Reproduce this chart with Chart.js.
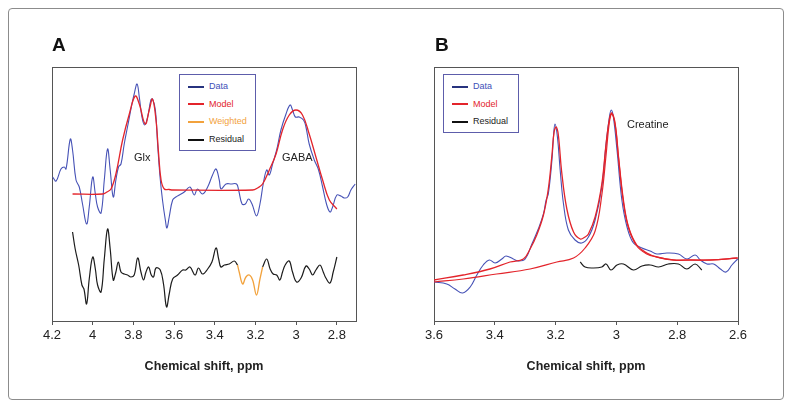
<!DOCTYPE html>
<html>
<head>
<meta charset="utf-8">
<script src="https://cdn.jsdelivr.net/npm/chart.js@4"></script>
<style>
  body { margin: 0; background: #fff; font-family: "Liberation Sans", Arial, sans-serif; }
  #fig { position: relative; width: 791px; height: 407px; overflow: hidden; }
  #frame { position: absolute; left: 8px; top: 8px; width: 774px; height: 390px; border: 1px solid #8c8c8c; border-radius: 4px; }
  canvas { position: absolute; top: 0; }
  .letter { position: absolute; font-weight: bold; font-size: 19px; color: #111; line-height: 22px; }
  .legend { position: absolute; border: 1px solid #5d5dab; background: #fff; font-size: 9px; padding-top: 3px; box-sizing: border-box; }
  .legend div { height: 17.7px; line-height: 17.7px; white-space: nowrap; }
  .legend span { display: inline-block; width: 16px; height: 2px; margin: 0 5px 0 8px; vertical-align: middle; }
  .note { position: absolute; font-size: 11px; color: #222; line-height: 13px; }
</style>
</head>
<body>
<div id="fig">
  <div id="frame"></div>
  <canvas id="chartA" width="395" height="407" style="left:0"></canvas>
  <canvas id="chartB" width="396" height="407" style="left:395px"></canvas>

  <div class="letter" style="left:52px; top:34px">A</div>
  <div class="letter" style="left:435px; top:34px">B</div>

  <div class="legend" style="left:179px; top:74px; width:77px; height:77px">
    <div style="color:#3e4fb8"><span style="background:#27337f"></span>Data</div>
    <div style="color:#e3242b"><span style="background:#e3242b"></span>Model</div>
    <div style="color:#f2a23c"><span style="background:#f2a23c"></span>Weighted</div>
    <div style="color:#222"><span style="background:#111"></span>Residual</div>
  </div>
  <div class="legend" style="left:443px; top:74px; width:76px; height:59px">
    <div style="color:#3e4fb8"><span style="background:#27337f"></span>Data</div>
    <div style="color:#e3242b"><span style="background:#e3242b"></span>Model</div>
    <div style="color:#222"><span style="background:#111"></span>Residual</div>
  </div>

  <div class="note" style="left:134px; top:151px">Glx</div>
  <div class="note" style="left:282px; top:151px">GABA</div>
  <div class="note" style="left:627px; top:118px">Creatine</div>
</div>

<script>
// Panel A: GABA-edited spectrum (ppm, arbitrary units)
const ticksA = [4.2, 4, 3.8, 3.6, 3.4, 3.2, 3, 2.8];
const dataPpmA = [4.197, 4.180, 4.156, 4.140, 4.131, 4.110, 4.099, 4.082, 4.066, 4.050, 4.030, 4.017, 4.000, 3.987, 3.976, 3.959, 3.943, 3.927, 3.914, 3.899, 3.886, 3.873, 3.861, 3.845, 3.829, 3.807, 3.796, 3.782, 3.771, 3.758, 3.745, 3.730, 3.714, 3.706, 3.692, 3.681, 3.669, 3.657, 3.643, 3.635, 3.624, 3.607, 3.591, 3.574, 3.550, 3.522, 3.501, 3.485, 3.460, 3.435, 3.411, 3.394, 3.378, 3.369, 3.345, 3.320, 3.293, 3.283, 3.266, 3.250, 3.234, 3.217, 3.195, 3.178, 3.162, 3.145, 3.132, 3.116, 3.096, 3.075, 3.050, 3.030, 3.018, 3.004, 2.985, 2.964, 2.952, 2.936, 2.911, 2.890, 2.870, 2.851, 2.834, 2.821, 2.800, 2.780, 2.764, 2.747, 2.731, 2.710];
const dataA = [144, 140, 152, 154, 152, 182, 171, 141, 134, 117, 97, 114, 144, 127, 114, 108, 141, 172, 151, 124, 141, 154, 157, 177, 194, 217, 227, 237, 224, 204, 196, 204, 221, 222, 211, 177, 144, 121, 101, 93, 104, 121, 124, 126, 129, 134, 126, 132, 127, 134, 146, 152, 141, 132, 137, 137, 137, 131, 117, 117, 122, 117, 105, 117, 137, 151, 146, 157, 171, 191, 207, 216, 211, 204, 204, 201, 194, 177, 161, 151, 134, 117, 109, 114, 126, 125, 123, 124, 131, 137];
const modelPpmA = [4.099, 3.951, 3.930, 3.910, 3.886, 3.853, 3.820, 3.791, 3.771, 3.742, 3.722, 3.706, 3.689, 3.676, 3.664, 3.648, 3.625, 3.607, 3.214, 3.190, 3.165, 3.132, 3.099, 3.067, 3.034, 3.001, 2.969, 2.936, 2.903, 2.870, 2.837, 2.800];
const modelA = [127, 127, 129, 132, 147, 181, 207, 225, 217, 197, 211, 222, 201, 167, 141, 132, 131.5, 131, 131, 133, 137, 151, 167, 191, 206, 211, 206, 187, 164, 141, 121, 112];
const residPpmA = [4.099, 4.086, 4.069, 4.053, 4.043, 4.030, 4.017, 4.000, 3.987, 3.976, 3.959, 3.943, 3.927, 3.914, 3.899, 3.886, 3.874, 3.861, 3.845, 3.829, 3.812, 3.796, 3.779, 3.763, 3.750, 3.738, 3.725, 3.712, 3.701, 3.689, 3.668, 3.652, 3.637, 3.624, 3.607, 3.583, 3.558, 3.542, 3.522, 3.497, 3.480, 3.460, 3.435, 3.414, 3.394, 3.381, 3.370, 3.353, 3.329, 3.304, 3.288, 3.280, 3.263, 3.247, 3.230, 3.214, 3.195, 3.178, 3.165, 3.145, 3.128, 3.113, 3.096, 3.080, 3.067, 3.054, 3.034, 3.018, 2.998, 2.976, 2.952, 2.936, 2.919, 2.903, 2.883, 2.867, 2.854, 2.834, 2.818, 2.800];
const residA = [89, 72, 56, 36, 32, 17, 42, 64, 52, 36, 29, 62, 92, 72, 41, 49, 59, 49, 47, 46, 44, 46, 63, 49, 41, 49, 54, 46, 44, 53, 51, 37, 14, 27, 42, 46, 51, 51, 54, 46, 53, 47, 52, 59, 73, 62, 54, 56, 57, 60, 56, 49, 37, 44, 46, 41, 26, 42, 54, 62, 52, 47, 46, 41, 49, 56, 60, 49, 39, 43, 55, 52, 46, 51, 56, 49, 43, 38, 49, 64];
const weightPpmA = [3.288, 3.280, 3.263, 3.247, 3.230, 3.214, 3.195, 3.178, 3.165];
const weightA = [56, 49, 37, 44, 46, 41, 26, 42, 54];

// Panel B: creatine fit
const ticksB = [3.6, 3.4, 3.2, 3, 2.8, 2.6];
const dataPpmB = [3.600, 3.558, 3.531, 3.506, 3.481, 3.459, 3.438, 3.418, 3.399, 3.377, 3.363, 3.339, 3.322, 3.300, 3.278, 3.257, 3.240, 3.231, 3.224, 3.212, 3.207, 3.202, 3.194, 3.185, 3.174, 3.158, 3.136, 3.114, 3.092, 3.070, 3.048, 3.034, 3.023, 3.017, 3.010, 2.998, 2.982, 2.965, 2.944, 2.916, 2.889, 2.867, 2.834, 2.796, 2.768, 2.741, 2.724, 2.702, 2.680, 2.658, 2.639, 2.620, 2.601];
const dataB = [39, 37, 32, 28, 34, 46, 56, 61, 58, 62, 65, 62, 60, 62, 77, 92, 107, 121, 127, 161, 184, 197, 184, 151, 117, 91, 81, 78, 84, 101, 134, 177, 204, 211, 204, 171, 121, 94, 78, 73, 70, 67, 68, 67, 62, 66, 61, 57, 57, 52, 49, 56, 62];
const modelPpmB = [3.600, 3.504, 3.416, 3.350, 3.306, 3.284, 3.262, 3.240, 3.224, 3.212, 3.205, 3.198, 3.191, 3.180, 3.163, 3.141, 3.119, 3.103, 3.092, 3.070, 3.048, 3.034, 3.023, 3.015, 3.004, 2.993, 2.977, 2.960, 2.933, 2.900, 2.867, 2.812, 2.755, 2.691, 2.601];
const modelB = [41, 46, 52, 59, 62, 72, 86, 106, 132, 166, 189, 194, 186, 149, 112, 89, 82, 84, 87, 104, 137, 177, 202, 208, 197, 164, 121, 94, 76, 68, 64, 61, 61, 61, 63];
const crPpmB = [3.600, 3.504, 3.394, 3.284, 3.196, 3.141, 3.103, 3.070, 3.048, 3.034, 3.023, 3.015, 3.004, 2.993, 2.977, 2.960, 2.933, 2.900, 2.867, 2.812, 2.755, 2.691, 2.601];
const crB = [39, 42, 47, 52, 59, 63, 73, 90, 126, 166, 199, 207, 196, 163, 119, 93, 75, 67, 64, 61, 61, 61, 63];
const residPpmB = [3.119, 3.103, 3.075, 3.048, 3.034, 3.018, 2.998, 2.977, 2.944, 2.916, 2.889, 2.861, 2.829, 2.796, 2.768, 2.741, 2.719];
const residB = [59, 54, 53, 54, 57, 51, 56, 57, 51, 55, 56, 54, 57, 57, 52, 57, 51];

const BLUE = '#4652b6';
const RED = '#e3242b';
const ORANGE = '#f2a23c';
const BLACK = '#1c1c1c';

function puntos(xs, ys) {
  return xs.map((x, i) => ({ x: x, y: ys[i] }));
}

function serie(label, xs, ys, color, width) {
  return {
    label: label,
    data: puntos(xs, ys),
    borderColor: color,
    borderWidth: width,
    pointRadius: 0,
    fill: false,
    tension: 0.4
  };
}

// the black residual leaves a gap where the weighted (orange) part is drawn
const wMax = Math.max(...weightPpmA);
const wMin = Math.min(...weightPpmA);
const residNegroA = residA.map((v, i) => (residPpmA[i] < wMax && residPpmA[i] > wMin) ? null : v);

// box around the plot area
const marco = {
  id: 'marco',
  beforeDatasetsDraw(chart) {
    const a = chart.chartArea;
    const ctx = chart.ctx;
    ctx.save();
    ctx.strokeStyle = '#555';
    ctx.lineWidth = 1;
    ctx.strokeRect(Math.round(a.left) + 0.5, Math.round(a.top) + 0.5, Math.round(a.right - a.left), Math.round(a.bottom - a.top));
    ctx.restore();
  }
};

function panel(id, datasets, xmin, xmax, ticks, pad) {
  return new Chart(document.getElementById(id), {
    type: 'line',
    data: { datasets: datasets },
    plugins: [marco],
    options: {
      responsive: false,
      animation: false,
      events: [],
      layout: { padding: pad },
      plugins: { legend: { display: false }, tooltip: { enabled: false } },
      scales: {
        x: {
          type: 'linear',
          reverse: true,
          min: xmin,
          max: xmax,
          afterBuildTicks: s => { s.ticks = ticks.map(v => ({ value: v })); },
          afterFit: s => { s.height = 56; },
          grid: { drawOnChartArea: false, drawTicks: true, tickLength: 4, color: '#555' },
          border: { display: true, color: '#555', width: 1 },
          ticks: {
            autoSkip: false,
            maxRotation: 0,
            padding: 3,
            color: '#222',
            font: { family: 'Liberation Sans, Arial, sans-serif', size: 13 },
            callback: v => String(Math.round(v * 10) / 10)
          },
          title: {
            display: true,
            text: 'Chemical shift, ppm',
            color: '#222',
            padding: { top: 0, bottom: 3 },
            font: { family: 'Liberation Sans, Arial, sans-serif', size: 12.5, weight: 'bold' }
          }
        },
        y: { display: false, min: 0, max: 254 }
      }
    }
  });
}

panel('chartA', [
  serie('Weighted', weightPpmA, weightA, ORANGE, 1.3),
  serie('Residual', residPpmA, residNegroA, BLACK, 1.2),
  serie('Model', modelPpmA, modelA, RED, 1.3),
  serie('Data', dataPpmA, dataA, BLUE, 1.1)
], 2.706, 4.2, ticksA, { left: 52, right: 39, top: 67, bottom: 30 });

panel('chartB', [
  serie('Model', modelPpmB, modelB, RED, 1.3),
  serie('Model', crPpmB, crB, RED, 1.2),
  serie('Residual', residPpmB, residB, BLACK, 1.2),
  serie('Data', dataPpmB, dataB, BLUE, 1.1)
], 2.6, 3.6, ticksB, { left: 39, right: 53, top: 67, bottom: 30 });
</script>
</body>
</html>
